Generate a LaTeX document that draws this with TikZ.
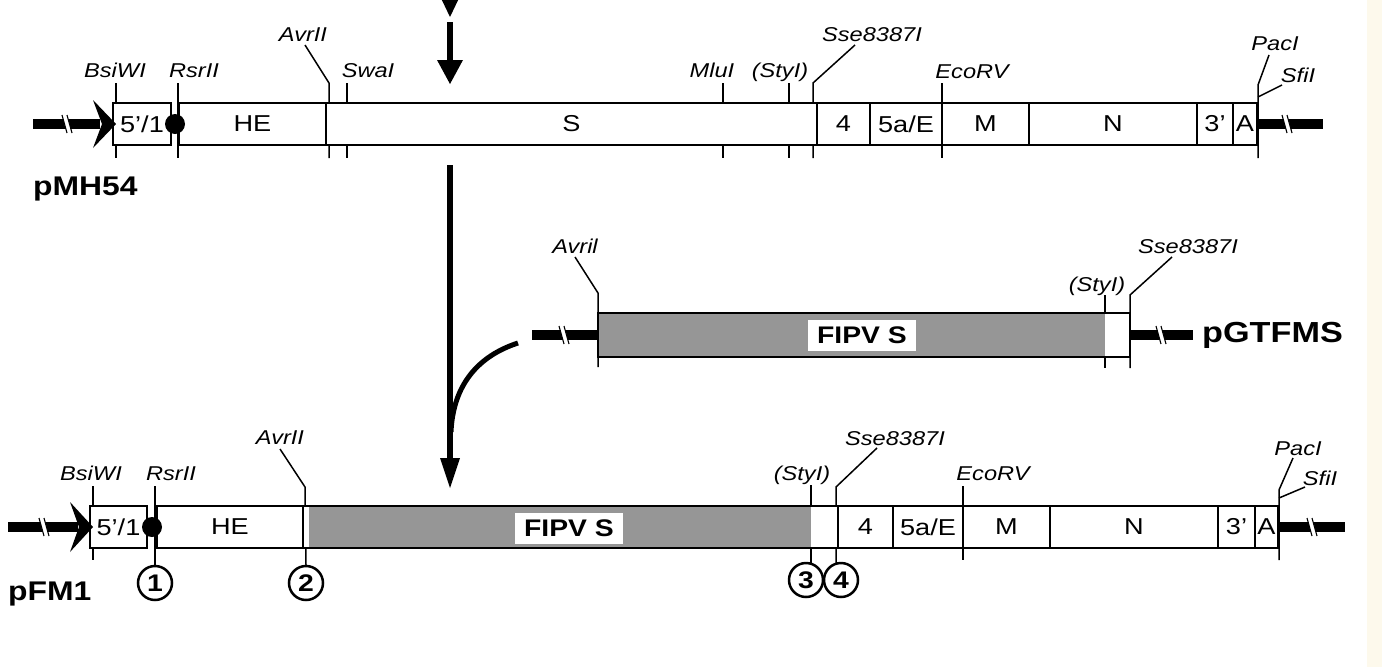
\documentclass[tikz,border=0pt]{standalone}
\usepackage{fontspec}
\setmainfont{Liberation Sans}[FakeStretch=1.18]
\definecolor{fipv}{RGB}{150,150,150}
\definecolor{cream}{RGB}{253,249,236}
\newcommand{\brkmark}[2]{%
  \fill[white] (#1-5,#2-6) -- (#1,#2-6) -- (#1+3,#2+6) -- (#1-2,#2+6) -- cycle;
  \draw[brk] (#1-6,#2-9) -- (#1-1,#2+9);
  \draw[brk] (#1-1,#2-9) -- (#1+4,#2+9);}
\begin{document}
\begin{tikzpicture}[x=1pt,y=-1pt,
  seg/.style={draw, line width=2.6pt, fill=white, minimum height=42pt, inner sep=0pt,
    font=\fontsize{23}{23}\selectfont},
  site/.style={font=\itshape\fontsize{20}{20}\selectfont, anchor=base, inner sep=0pt},
  tick/.style={line width=1.5pt},
  backbone/.style={line width=10pt},
  brk/.style={line width=1.1pt},
  num/.style={circle, draw, line width=2.5pt, fill=white, minimum size=34pt, inner sep=0pt,
    font=\bfseries\fontsize{24}{24}\selectfont},
  plas/.style={font=\bfseries\fontsize{27}{27}\selectfont, anchor=base west, inner sep=0pt},
  flab/.style={fill=white, inner sep=0pt, font=\bfseries\fontsize{24}{24}\selectfont,
    minimum width=108pt, minimum height=31pt},
  dot/.style={circle, fill=black, minimum size=20pt, inner sep=0pt}
]
\useasboundingbox (0,0) rectangle (1382,667);
\fill[white] (0,0) rectangle (1382,667);
\fill[cream] (1367,0) rectangle (1382,667);

% ---------------- Row 1 : pMH54 ----------------
\draw[backbone] (33,124) -- (100,124);
\draw[backbone] (1257,124) -- (1323,124);
\brkmark{68}{124}
\brkmark{1288}{124}
% sites (drawn first, boxes cover their inner part)
\draw[tick] (116,83) -- (116,158);
\draw[tick] (178,83) -- (178,158);
\draw[tick] (305,45) -- (329,83) -- (329,158);
\draw[tick] (347,83) -- (347,158);
\draw[tick] (723,83) -- (723,158);
\draw[tick] (789,83) -- (789,158);
\draw[tick] (855,45) -- (813,83) -- (813,158);
\draw[tick] (942,83) -- (942,158);
\draw[tick] (1269,55) -- (1258,85) -- (1258,158);
\draw[tick] (1258,97) -- (1282,85);
\node[seg, minimum width=58pt] (a51) at (142,124) {5’/1};
\node[seg, minimum width=147pt] (ahe) at (252.5,124) {HE};
\node[seg, minimum width=491pt] (as) at (571.5,124) {S};
\node[seg, minimum width=53pt] (a4) at (843.5,124) {4};
\node[seg, minimum width=72pt] (a5a) at (906,124) {5a/E};
\node[seg, minimum width=87pt] (am) at (985.5,124) {M};
\node[seg, minimum width=168pt] (an) at (1113,124) {N};
\node[seg, minimum width=36pt] (a3) at (1215,124) {3’};
\node[seg, minimum width=24pt] (aa) at (1245,124) {A};
\fill (116,124) -- (93,100) -- (102,124) -- (93,148) -- cycle;
\node[dot] (adot) at (175,124) {};
\node[site] (l1) at (115,77) {BsiWI};
\node[site] (l2) at (194,77) {RsrII};
\node[site] (l3) at (303,41) {AvrII};
\node[site] (l4) at (368,77) {SwaI};
\node[site] (l5) at (712,77) {MluI};
\node[site] (l6) at (780,77) {(StyI)};
\node[site] (l7) at (872,41) {Sse8387I};
\node[site] (l8) at (972,78) {EcoRV};
\node[site] (l9) at (1275,50) {PacI};
\node[site] (l10) at (1298,82) {SfiI};
\node[plas] (pmh) at (33,195) {pMH54};

% ---------------- Row 2 : pGTFMS ----------------
\draw[backbone] (532,335) -- (598,335);
\draw[backbone] (1130,335) -- (1193,335);
\brkmark{565}{335}
\brkmark{1162}{335}
\draw[tick] (575,257) -- (598,293) -- (598,367);
\draw[tick] (1105,295) -- (1105,368);
\draw[tick] (1172,257) -- (1130,295) -- (1130,368);
\fill[fipv] (598,313) rectangle (1105,357);
\fill[white] (1105,313) rectangle (1130,357);
\draw[line width=2.6pt] (598,313) rectangle (1130,357);
\node[flab] (f1) at (862,335) {FIPV S};
\node[site] (m1) at (575,253) {Avril};
\node[site] (m2) at (1097,291) {(StyI)};
\node[site] (m3) at (1188,253) {Sse8387I};
\node[plas, font=\bfseries\fontsize{29}{29}\selectfont] (pgt) at (1202,342) {pGTFMS};

% ---------------- Row 3 : pFM1 ----------------
\draw[backbone] (8,527) -- (78,527);
\draw[backbone] (1278,527) -- (1345,527);
\brkmark{45}{527}
\brkmark{1313}{527}
\node[num] (c1) at (155,583) {1};
\node[num] (c2) at (306,583) {2};
\node[num] (c3) at (806,580) {3};
\node[num] (c4) at (841,580) {4};
\draw[tick] (93,486) -- (93,560);
\draw[tick] (155,486) -- (c1.north);
\draw[tick] (280,449) -- (305,487) -- (c2.north);
\draw[tick] (811,485) -- (811,564);
\draw[tick] (877,448) -- (836,487) -- (836,564);
\draw[tick] (963,486) -- (963,560);
\draw[tick] (1293,458) -- (1279,490) -- (1279,560);
\draw[tick] (1279,498) -- (1305,487);
\node[seg, minimum width=57pt] (b51) at (118.5,527) {5’/1};
\node[seg, minimum width=146pt] (bhe) at (230,527) {HE};
\node[seg, minimum width=535pt] (bs) at (570.5,527) {};
\fill[fipv] (309,507.3) rectangle (811,546.7);
\node[seg, minimum width=55pt] (b4) at (865.5,527) {4};
\node[seg, minimum width=70pt] (b5a) at (928,527) {5a/E};
\node[seg, minimum width=87pt] (bm) at (1006.5,527) {M};
\node[seg, minimum width=168pt] (bn) at (1134,527) {N};
\node[seg, minimum width=37pt] (b3) at (1236.5,527) {3’};
\node[seg, minimum width=23pt] (ba) at (1266.5,527) {A};
\node[flab] (f2) at (569,528) {FIPV S};
\fill (93,527) -- (70,502) -- (79,527) -- (70,552) -- cycle;
\node[dot] (bdot) at (152,527) {};
\node[site] (n1) at (91,480) {BsiWI};
\node[site] (n2) at (171,480) {RsrII};
\node[site] (n3) at (280,444) {AvrII};
\node[site] (n4) at (802,480) {(StyI)};
\node[site] (n5) at (895,445) {Sse8387I};
\node[site] (n6) at (993,480) {EcoRV};
\node[site] (n7) at (1298,455) {PacI};
\node[site] (n8) at (1320,485) {SfiI};
\node[plas] (pfm) at (8,600) {pFM1};

% ---------------- arrows ----------------
\fill (439,-6) -- (461,-6) -- (450,17) -- cycle;
\draw[line width=6pt] (450,22) -- (450,62);
\fill (437,60) -- (463,60) -- (450,84) -- cycle;
\draw[line width=5.5pt] (450,165) -- (450,465);
\fill (440,458) -- (460,458) -- (450,488) -- cycle;
\coordinate (cs) at (518,343);
\coordinate (ce) at (451,432);
\draw[line width=5pt] (cs) .. controls (478,356) and (453,385) .. (ce);
\end{tikzpicture}
\end{document}
